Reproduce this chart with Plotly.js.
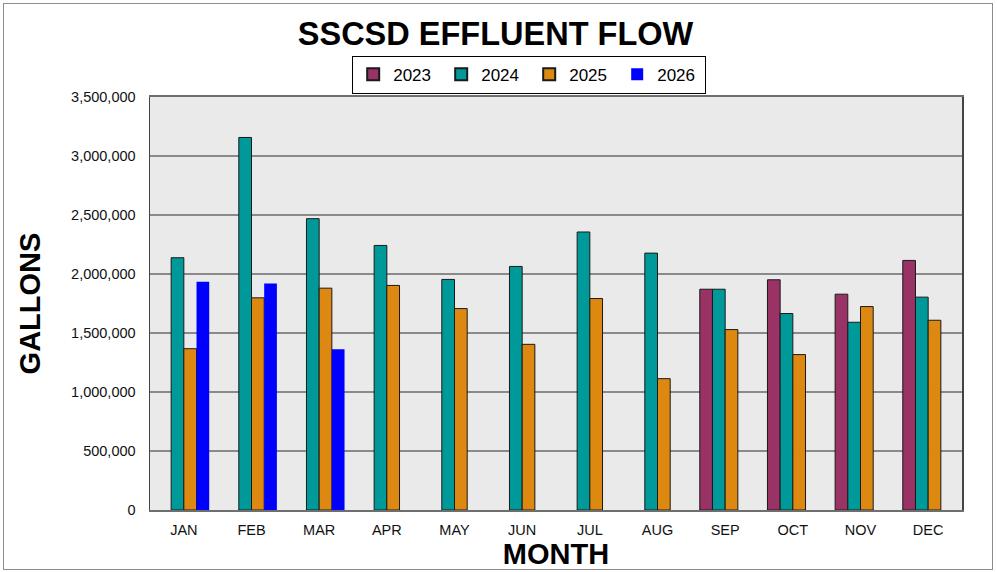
<!DOCTYPE html>
<html>
<head>
<meta charset="utf-8">
<script src="https://cdn.plot.ly/plotly-3.0.1.min.js"></script>
<style>
  html, body { margin: 0; padding: 0; background: #ffffff; }
  #wrap { position: relative; width: 997px; height: 572px; }
  #chart { width: 997px; height: 572px; }
  #frame { position: absolute; left: 3px; top: 3px; width: 988px; height: 565px; border: 1px solid #8c8c8c; pointer-events: none; }
</style>
</head>
<body>
<div id="wrap"><div id="chart"></div><div id="frame"></div></div>
<script>
const months = ["JAN","FEB","MAR","APR","MAY","JUN","JUL","AUG","SEP","OCT","NOV","DEC"];
const y2023 = [null,null,null,null,null,null,null,null,1871000,1951000,1829000,2115000];
const y2024 = [2138000,3157000,2469000,2242000,1954000,2064000,2356000,2177000,1871000,1665000,1591000,1804000];
const y2025 = [1367000,1798000,1880000,1903000,1707000,1404000,1792000,1113000,1529000,1317000,1724000,1608000];
const y2026 = [1934000,1920000,1362000,null,null,null,null,null,null,null,null,null];
const yTicks = [0,500000,1000000,1500000,2000000,2500000,3000000,3500000];
const yTickText = ["0","500,000","1,000,000","1,500,000","2,000,000","2,500,000","3,000,000","3,500,000"];

const FONT = '"Liberation Sans", Arial, sans-serif';
const outline = {color: '#1a1a1a', width: 1};

const traces = [
  {name: '2023', x: months, y: y2023, type: 'bar', marker: {color: '#993366', line: outline}},
  {name: '2024', x: months, y: y2024, type: 'bar', marker: {color: '#009999', line: outline}},
  {name: '2025', x: months, y: y2025, type: 'bar', marker: {color: '#DD8811', line: outline}},
  {name: '2026', x: months, y: y2026, type: 'bar', marker: {color: '#0000FF', line: {color: '#0000FF', width: 0}}}
];

const layout = {
  width: 997, height: 572,
  margin: {l: 150, r: 35, t: 97, b: 62, pad: 0},
  paper_bgcolor: '#ffffff',
  plot_bgcolor: '#EAEAEA',
  font: {family: FONT, color: '#111111', size: 14},
  barmode: 'group',
  bargap: 0.25,
  bargroupgap: 0,
  showlegend: true,
  title: {text: '<b>SSCSD EFFLUENT FLOW</b>', font: {family: FONT, size: 32.5, color: '#000000'}, x: 0.497, xanchor: 'center', y: 0.942, yanchor: 'middle'},
  legend: {
    orientation: 'h', x: 0.249, xanchor: 'left', y: 1.1, yanchor: 'top',
    bgcolor: '#ffffff', bordercolor: '#000000', borderwidth: 1,
    font: {family: FONT, size: 17, color: '#000000'},
    entrywidth: 43, entrywidthmode: 'pixels', traceorder: 'normal',
    itemsizing: 'constant'
  },
  xaxis: {
    type: 'category',
    title: {text: '<b>MONTH</b>', font: {family: FONT, size: 29, color: '#000000'}, standoff: 4},
    tickfont: {family: FONT, size: 14.5, color: '#111111'},
    ticklabelstandoff: 6,
    showline: true, linecolor: '#6e6e6e', linewidth: 2, mirror: true,
    ticks: '', showgrid: false, zeroline: false
  },
  yaxis: {
    range: [0, 3500000],
    tickvals: yTicks, ticktext: yTickText,
    title: {text: '<b>GALLONS</b>', font: {family: FONT, size: 29, color: '#000000'}, standoff: 22},
    tickfont: {family: FONT, size: 14.5, color: '#111111'},
    ticklabelstandoff: 10,
    showline: true, linecolor: '#444444', linewidth: 1.5, mirror: true,
    ticks: '',
    showgrid: true, gridcolor: '#8a8a8a', gridwidth: 1.5, zeroline: false
  }
};

Plotly.newPlot('chart', traces, layout, {displayModeBar: false, staticPlot: true});
</script>
</body>
</html>
